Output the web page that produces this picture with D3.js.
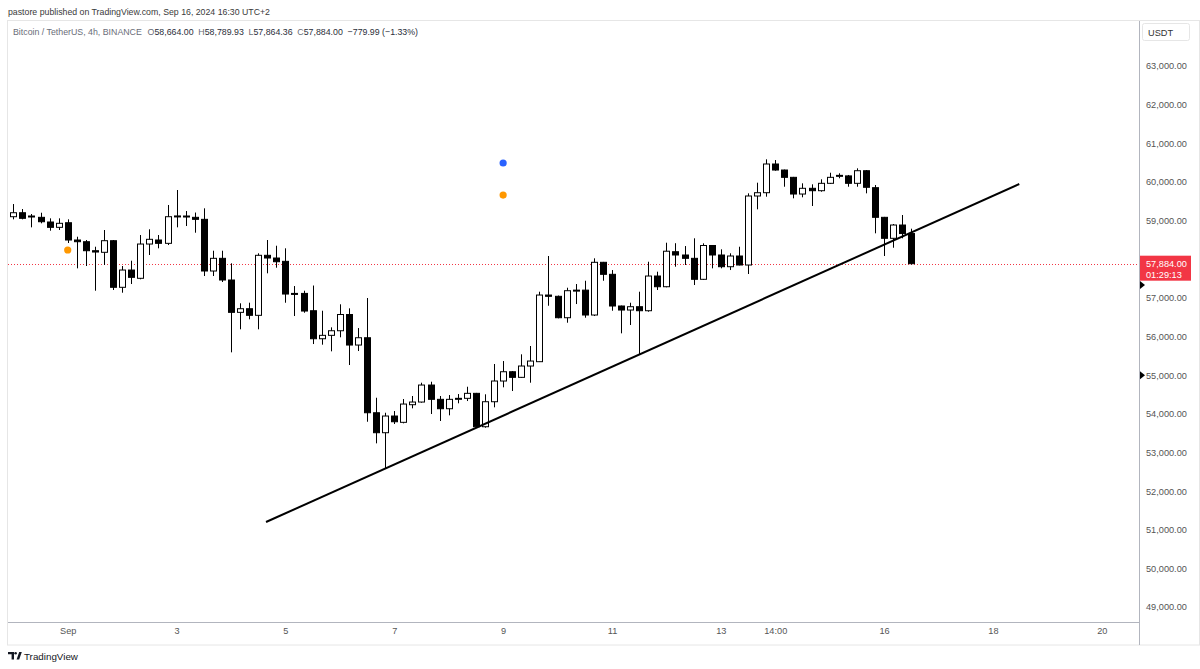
<!DOCTYPE html>
<html>
<head>
<meta charset="utf-8">
<script src="https://cdn.jsdelivr.net/npm/d3@7"></script>
<style>
  html, body { margin: 0; padding: 0; background: #fff; }
  svg { display: block; font-family: "Liberation Sans", Arial, sans-serif; }
</style>
</head>
<body>
<div id="chart"></div>
<script>
// 4h candles, index 0 = Aug 31 first bar
const opens  = [59100,59203,59118,59084,58963,58825,58944,58497,58453,58220,58179,58479,57273,57720,57506,58393,58497,58411,59100,59118,
  59084,59032,57695,58023,57462,56625,56719,56548,58101,58031,57945,57115,57115,56667,55942,56030,56149,56569,55779,55968,
  54027,53510,53942,53779,54235,54304,54744,54374,54131,54380,54400,54529,53665,54312,54848,55088,54943,55236,55348,57073,
  57040,56486,57190,57200,56556,57920,57609,56789,56685,56771,56667,57565,57288,58194,58109,58023,57480,58355,58109,57806,
  58083,57850,59636,59721,60464,60308,60119,59687,59835,59773,59964,60145,60156,59964,60290,59851,59084,58541,58885,58664];
const highs  = [59428,59299,59170,59203,59058,59058,59032,58582,58497,58323,58756,58497,57824,57961,58626,58774,58626,59403,59791,59247,
  59208,59317,58220,58220,57894,56859,56875,58153,58497,58349,58282,57306,57185,57319,56667,56237,56833,56729,56219,56996,
  54415,54027,54071,54382,54460,54804,54830,54460,54485,54511,54700,54540,54504,55288,55365,55106,55539,55754,57159,58083,
  57060,57262,57358,57443,58023,57930,57720,56800,56874,57159,57935,57677,58427,58414,58341,58541,58411,58365,58256,58153,
  58323,59705,59980,60585,60567,60320,60130,59964,59938,60068,60238,60223,60180,60352,60308,59920,59095,58911,59144,58789.93];
const lows   = [59032,59032,58825,58929,58738,58756,58419,57764,57824,57185,57850,57203,57133,57358,57480,58109,58282,58367,58825,58859,
  58686,57565,57565,57410,55590,56186,56445,56186,57635,57780,56874,56530,56615,55805,55788,55616,55979,55262,55624,53794,
  53235,52588,53735,53753,54141,54287,53994,53813,53960,54271,54330,53657,53640,54167,54685,54589,54930,54804,55340,56796,
  56470,56357,56840,56486,56530,57443,56667,56082,56297,55521,56641,57203,57273,57806,57850,57332,57462,57764,57764,57720,
  57840,57617,59291,59618,60290,59876,59576,59602,59377,59747,59946,60094,59876,59876,59705,58670,58083,58297,58541,57864.36];
const closes = [59203,59058,59100,58970,58825,58929,58497,58453,58220,58186,58479,57273,57720,57531,58393,58515,58411,59100,59120,59100,
  59032,57695,58023,57462,56625,56719,56548,58101,58031,57935,57099,57090,56659,55942,56030,56149,56569,55779,55968,54027,
  53510,53942,53794,54252,54304,54744,54374,54131,54374,54400,54529,53665,54312,54848,55088,54943,55236,55365,57073,57040,
  56486,57185,57200,56556,57920,57609,56789,56685,56771,56667,57565,57288,58207,58109,58023,57480,58355,58109,57806,58083,
  57850,59636,59721,60464,60308,60119,59687,59835,59773,59964,60119,60170,59964,60290,59861,59084,58541,58885,58664,57884];

const timeTickIdx    = [6, 18, 30, 42, 54, 66, 78, 84, 96, 108, 120];
const timeTickLabels = ["Sep", "3", "5", "7", "9", "11", "13", "14:00", "16", "18", "20"];
const priceTicks = [49000,50000,51000,52000,53000,54000,55000,56000,57000,58000,59000,60000,61000,62000,63000];

// drawings
const trendIdx   = [27.86, 110.9];
const trendPrice = [51199, 59946];
const dotIdx    = [54, 54, 6];
const dotPrice  = [60490, 59661, 58238];
const dotColors = ["#2962ff", "#ff9800", "#ff9800"];
const axisMarkPrices = [57332, 55000];

const lastPrice = 57884;
const countdown = "01:29:13";
const headerLine = "pastore published on TradingView.com, Sep 16, 2024 16:30 UTC+2";
const symbolTitle = "Bitcoin / TetherUS, 4h, BINANCE";
const ohlcText = [["O", "58,664.00"], ["H", "58,789.93"], ["L", "57,864.36"], ["C", "57,884.00"]];
const changeText = "\u2212779.99 (\u22121.33%)";

const W = 1200, H = 669;
const plot = { left: 8, right: 1139, top: 21, bottom: 622 };
const axisBottom = 645;

const svg = d3.select("#chart").append("svg").attr("width", W).attr("height", H);

const x = d3.scaleLinear().domain([-0.584, 124.1]).range([plot.left, plot.right]);
const y = d3.scaleLinear().domain([49000, 63000]).range([607, 66]);

// header
svg.append("text").attr("x", 8).attr("y", 15).attr("font-size", 9.8).attr("fill", "#3a3a3a")
  .attr("textLength", 262).attr("lengthAdjust", "spacingAndGlyphs").text(headerLine);

// panel border
svg.append("rect").attr("x", 7.5).attr("y", 20.5).attr("width", W - 8).attr("height", axisBottom - 20.5)
  .attr("fill", "none").attr("stroke", "#e6e6e6");

const g = svg.append("g");

// last price line
g.append("line")
  .attr("x1", plot.left).attr("x2", plot.right)
  .attr("y1", Math.round(y(lastPrice)) + 0.5).attr("y2", Math.round(y(lastPrice)) + 0.5)
  .attr("stroke", "#f23645").attr("stroke-width", 1).attr("stroke-dasharray", "1 2");

// candles
const data = opens.map((o, i) => ({ i, o, h: highs[i], l: lows[i], c: closes[i] }));
const bodyW = 6;
const candles = g.selectAll("g.candle").data(data).enter().append("g").attr("class", "candle");
candles.append("line")
  .attr("x1", d => Math.round(x(d.i)) + 0.5).attr("x2", d => Math.round(x(d.i)) + 0.5)
  .attr("y1", d => y(d.h)).attr("y2", d => y(d.l))
  .attr("stroke", "#000").attr("stroke-width", 1);
candles.append("rect")
  .attr("x", d => Math.round(x(d.i)) - bodyW / 2 + 0.5)
  .attr("y", d => y(Math.max(d.o, d.c)))
  .attr("width", bodyW)
  .attr("height", d => Math.max(1, Math.abs(y(d.o) - y(d.c))))
  .attr("fill", d => d.c >= d.o ? "#fff" : "#000")
  .attr("stroke", "#000").attr("stroke-width", 1);

// trend line
g.append("line")
  .attr("x1", x(trendIdx[0])).attr("y1", y(trendPrice[0]))
  .attr("x2", x(trendIdx[1])).attr("y2", y(trendPrice[1]))
  .attr("stroke", "#000").attr("stroke-width", 2);

// signal dots
g.selectAll("circle.sig").data(dotIdx).enter().append("circle").attr("class", "sig")
  .attr("cx", (d) => x(d)).attr("cy", (d, i) => y(dotPrice[i])).attr("r", 3.6)
  .attr("fill", (d, i) => dotColors[i]);

// symbol line
const title = svg.append("text").attr("x", 13).attr("y", 35).attr("font-size", 9.2).attr("fill", "#6a6d78")
  .attr("textLength", 405).attr("lengthAdjust", "spacingAndGlyphs");
title.append("tspan").text(symbolTitle);
ohlcText.forEach((p, k) => {
  title.append("tspan").attr("dx", k === 0 ? 6 : 5).attr("fill", "#6a6d78").text(p[0]);
  title.append("tspan").attr("fill", "#2a2e39").text(p[1]);
});
title.append("tspan").attr("dx", 5).attr("fill", "#2a2e39").text(changeText);

// axes frame
svg.append("line").attr("x1", plot.right + 0.5).attr("x2", plot.right + 0.5).attr("y1", 21).attr("y2", axisBottom)
  .attr("stroke", "#b2b5be");
svg.append("line").attr("x1", plot.left).attr("x2", plot.right).attr("y1", plot.bottom + 0.5).attr("y2", plot.bottom + 0.5)
  .attr("stroke", "#b2b5be");

// price axis (labels under the last-price tag are hidden by it)
const ly = y(lastPrice);
const yAxis = d3.axisRight(y).tickValues(priceTicks.filter(p => Math.abs(y(p) - ly) > 14)).tickSize(0).tickPadding(7)
  .tickFormat(d => d3.format(",.2f")(d));
const ya = svg.append("g").attr("transform", `translate(${plot.right},0)`).call(yAxis);
ya.select(".domain").remove();
ya.selectAll("text").attr("font-size", 9.2).attr("fill", "#555").attr("font-family", "Liberation Sans, Arial, sans-serif");

// time axis
const xAxis = d3.axisBottom(x).tickValues(timeTickIdx).tickSize(0).tickPadding(5)
  .tickFormat((d, i) => timeTickLabels[i]);
const xa = svg.append("g").attr("transform", `translate(0,${plot.bottom})`).call(xAxis);
xa.select(".domain").remove();
xa.selectAll("text").attr("font-size", 9.2).attr("fill", "#555").attr("font-family", "Liberation Sans, Arial, sans-serif");

// USDT box
svg.append("rect").attr("x", 1142.5).attr("y", 23.5).attr("width", 47).attr("height", 17).attr("rx", 2)
  .attr("fill", "#fff").attr("stroke", "#e6e6e6");
svg.append("text").attr("x", 1148).attr("y", 35.5).attr("font-size", 9.2).attr("fill", "#333").text("USDT");

// axis markers
svg.selectAll("path.mark").data(axisMarkPrices).enter().append("path").attr("class", "mark")
  .attr("d", d => { const yy = y(d); return `M${plot.right + 1},${yy - 4}L${plot.right + 6},${yy}L${plot.right + 1},${yy + 4}Z`; })
  .attr("fill", "#000");

// last price label
svg.append("rect").attr("x", plot.right + 1).attr("y", ly - 8).attr("width", 51).attr("height", 25)
  .attr("fill", "#f23645");
svg.append("text").attr("x", plot.right + 7).attr("y", ly + 3.5).attr("font-size", 9.2).attr("fill", "#fff").text(d3.format(",.2f")(lastPrice));
svg.append("text").attr("x", plot.right + 7).attr("y", ly + 14).attr("font-size", 9.2).attr("fill", "#fff").text(countdown);

// footer logo
const logo = svg.append("g").attr("transform", "translate(8,652)");
logo.append("path").attr("d", "M0,0H6V7.5H3.6V2.2H0Z").attr("fill", "#131722");
logo.append("circle").attr("cx", 7.6).attr("cy", 1.3).attr("r", 1.3).attr("fill", "#131722");
logo.append("path").attr("d", "M8.6,7.5L11.2,0H13.8L11.2,7.5Z").attr("fill", "#131722");
svg.append("text").attr("x", 24).attr("y", 660).attr("font-size", 9.8).attr("fill", "#131722").text("TradingView");
</script>
</body>
</html>
